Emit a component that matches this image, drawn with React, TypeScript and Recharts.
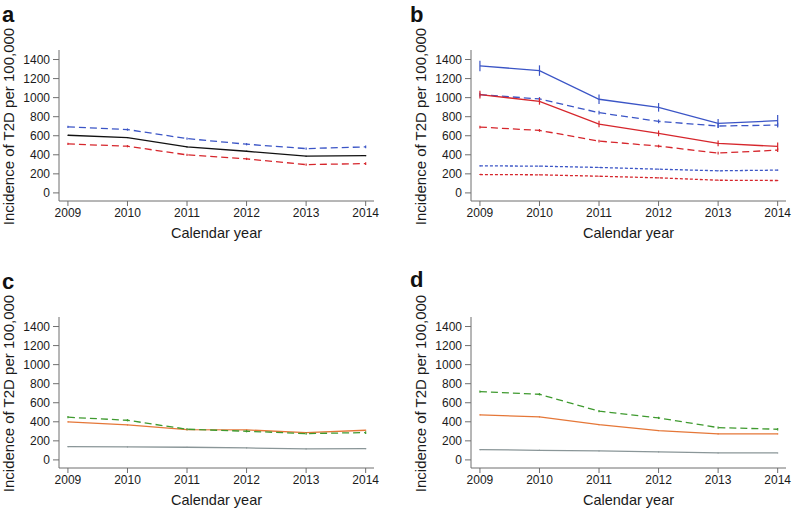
import React from 'react';
import { LineChart, Line, XAxis, YAxis, ErrorBar, Label } from 'recharts';

const years = [2009, 2010, 2011, 2012, 2013, 2014];
const yTicks = [0, 200, 400, 600, 800, 1000, 1200, 1400];

// a: overall and by sex
const aAll = [605, 581, 483, 437, 385, 392];
const aMen = [693, 665, 570, 511, 465, 483];
const aWomen = [514, 490, 399, 357, 297, 308];

// b: by sex and age group
const bMenOld = [1333, 1284, 983, 898, 730, 758];
const bMenMid = [1032, 986, 842, 751, 702, 712];
const bMenYoung = [284, 281, 267, 249, 232, 239];
const bWomenOld = [1032, 961, 723, 625, 519, 488];
const bWomenMid = [691, 656, 544, 491, 418, 449];
const bWomenYoung = [193, 190, 175, 158, 133, 130];

const bMenOldErr = [55, 55, 50, 45, 45, 60];
const bWomenOldErr = [40, 35, 35, 30, 30, 40];

// c, d: by group
const cGreen = [448, 416, 322, 301, 276, 287];
const cOrange = [399, 367, 318, 315, 287, 311];
const cGray = [140, 136, 133, 126, 115, 119];

const dGreen = [717, 689, 511, 441, 339, 322];
const dOrange = [472, 451, 371, 308, 273, 273];
const dGray = [108, 101, 94, 84, 73, 73];

const smallErr = [12, 12, 12, 12, 12, 14];
const tinyErr = [6, 6, 6, 6, 6, 6];

const BLUE = '#3b55c6';
const RED = '#d6262c';
const GREEN = '#3f9a2f';
const ORANGE = '#e57738';
const GRAY = '#8a9698';
const FONT = '"Liberation Sans", Arial, Helvetica, sans-serif';

type Series = { key: string; values: number[]; err: number[]; color: string; dash?: string };

const panelA: Series[] = [
  { key: 'all', values: aAll, err: tinyErr, color: '#111' },
  { key: 'men', values: aMen, err: smallErr, color: BLUE, dash: '7 4' },
  { key: 'women', values: aWomen, err: smallErr, color: RED, dash: '7 4' },
];

const panelB: Series[] = [
  { key: 'menOld', values: bMenOld, err: bMenOldErr, color: BLUE },
  { key: 'menMid', values: bMenMid, err: [20, 20, 20, 20, 20, 25], color: BLUE, dash: '7 4' },
  { key: 'menYoung', values: bMenYoung, err: tinyErr, color: BLUE, dash: '3 2' },
  { key: 'womenOld', values: bWomenOld, err: bWomenOldErr, color: RED },
  { key: 'womenMid', values: bWomenMid, err: [15, 15, 15, 15, 15, 20], color: RED, dash: '7 4' },
  { key: 'womenYoung', values: bWomenYoung, err: tinyErr, color: RED, dash: '3 2' },
];

const panelC: Series[] = [
  { key: 'gray', values: cGray, err: tinyErr, color: GRAY },
  { key: 'orange', values: cOrange, err: tinyErr, color: ORANGE },
  { key: 'green', values: cGreen, err: smallErr, color: GREEN, dash: '7 4' },
];

const panelD: Series[] = [
  { key: 'gray', values: dGray, err: tinyErr, color: GRAY },
  { key: 'orange', values: dOrange, err: tinyErr, color: ORANGE },
  { key: 'green', values: dGreen, err: smallErr, color: GREEN, dash: '7 4' },
];

const buildRows = (series: Series[]) =>
  years.map((year, i) => {
    const row: any = { year };
    series.forEach((s) => {
      row[s.key] = s.values[i];
      row[s.key + 'Err'] = s.err[i];
    });
    return row;
  });

const YTitle = ({ viewBox }: any) => {
  const x = viewBox.x + viewBox.width - 45;
  const y = viewBox.y + viewBox.height / 2 + 1;
  return (
    <text
      x={x}
      y={y}
      transform={`rotate(-90, ${x}, ${y})`}
      textAnchor="middle"
      fontSize={15}
      fill="#1a1a1a"
      fontFamily={FONT}
    >
      Incidence of T2D per 100,000
    </text>
  );
};

function Panel({ series, left, top, axisWidth }: { series: Series[]; left: number; top: number; axisWidth: number }) {
  const data = buildRows(series);
  return (
    <div style={{ position: 'absolute', left, top }}>
      <LineChart
        width={axisWidth + 323}
        height={242}
        data={data}
        margin={{ top: 50, right: 8, bottom: 0, left: 0 }}
        style={{ fontFamily: FONT }}
      >
        <XAxis
          dataKey="year"
          type="number"
          domain={[2008.85, 2014.14]}
          ticks={years}
          interval={0}
          height={41}
          tickSize={5}
          tickMargin={2}
          stroke="#6f6f6f"
          tick={{ fontSize: 12, fill: '#1a1a1a' }}
          allowDataOverflow
        >
          <Label value="Calendar year" position="insideBottom" offset={4} fontSize={14.5} fill="#1a1a1a" />
        </XAxis>
        <YAxis
          domain={[-85, 1500]}
          ticks={yTicks}
          interval={0}
          width={axisWidth}
          tickSize={6}
          tickMargin={3}
          stroke="#6f6f6f"
          tick={{ fontSize: 12, fill: '#1a1a1a' }}
          allowDataOverflow
          label={<YTitle />}
        />
        {series.map((s) => (
          <Line
            key={s.key}
            dataKey={s.key}
            type="linear"
            stroke={s.color}
            strokeWidth={1.3}
            strokeDasharray={s.dash}
            dot={false}
            isAnimationActive={false}
          >
            <ErrorBar dataKey={s.key + 'Err'} direction="y" width={0} stroke={s.color} strokeWidth={1.2} isAnimationActive={false} />
          </Line>
        ))}
      </LineChart>
    </div>
  );
}

const panelLabels = [
  { text: 'a', x: 2, y: 22 },
  { text: 'b', x: 410, y: 22 },
  { text: 'c', x: 2, y: 289 },
  { text: 'd', x: 410, y: 287 },
];

export default function App() {
  return (
    <div style={{ position: 'absolute', left: 0, top: 0, width: 794, height: 508, background: '#fff', overflow: 'hidden' }}>
      <Panel series={panelA} left={0} top={0} axisWidth={59} />
      <Panel series={panelB} left={408} top={0} axisWidth={63} />
      <Panel series={panelC} left={0} top={267} axisWidth={59} />
      <Panel series={panelD} left={408} top={267} axisWidth={63} />
      <svg width={794} height={508} style={{ position: 'absolute', left: 0, top: 0, pointerEvents: 'none' }}>
        {panelLabels.map((l) => (
          <text key={l.text} x={l.x} y={l.y} fontSize={22} fontWeight="bold" fontFamily={FONT} fill="#111">
            {l.text}
          </text>
        ))}
      </svg>
    </div>
  );
}
